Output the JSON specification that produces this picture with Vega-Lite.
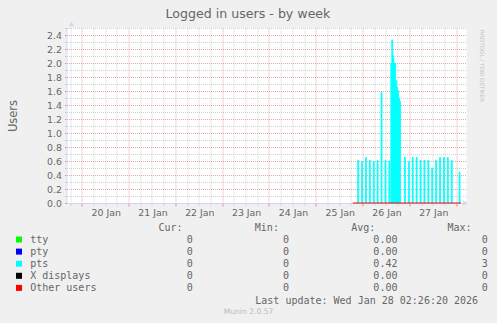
{
  "$schema": "https://vega.github.io/schema/vega-lite/v6.json",
  "width": 400,
  "height": 175,
  "autosize": {"type": "none"},
  "padding": {"left": 66.5, "top": 28, "right": 30.5, "bottom": 120},
  "background": "#F0F0F0",
  "title": {"text": "Logged in users - by week", "font": "DejaVu Sans", "fontSize": 12.6, "fontWeight": "normal", "color": "#666666", "anchor": "middle", "frame": "group", "dx": -18.5, "offset": 1},
  "config": {
    "view": {"fill": "#FFFFFF", "stroke": null},
    "axis": {"labelFont": "DejaVu Sans", "labelFontSize": 9.4, "labelColor": "#666666", "titleFont": "DejaVu Sans", "titleColor": "#666666", "titleFontWeight": "normal"}
  },
  "datasets": {
    "pts": [
      {"series": "pts", "start": "2026-01-25T21:30:00Z", "end": "2026-01-25T22:00:00Z", "value": 0.61},
      {"series": "pts", "start": "2026-01-25T23:30:00Z", "end": "2026-01-26T00:00:00Z", "value": 0.59},
      {"series": "pts", "start": "2026-01-26T01:30:00Z", "end": "2026-01-26T02:00:00Z", "value": 0.65},
      {"series": "pts", "start": "2026-01-26T03:30:00Z", "end": "2026-01-26T04:00:00Z", "value": 0.61},
      {"series": "pts", "start": "2026-01-26T05:30:00Z", "end": "2026-01-26T06:00:00Z", "value": 0.59},
      {"series": "pts", "start": "2026-01-26T07:30:00Z", "end": "2026-01-26T08:00:00Z", "value": 0.61},
      {"series": "pts", "start": "2026-01-26T09:30:00Z", "end": "2026-01-26T10:00:00Z", "value": 1.58},
      {"series": "pts", "start": "2026-01-26T11:30:00Z", "end": "2026-01-26T12:00:00Z", "value": 0.61},
      {"series": "pts", "start": "2026-01-26T13:30:00Z", "end": "2026-01-26T14:00:00Z", "value": 0.6},
      {"series": "pts", "start": "2026-01-26T14:30:00Z", "end": "2026-01-26T15:00:00Z", "value": 2.0},
      {"series": "pts", "start": "2026-01-26T15:00:00Z", "end": "2026-01-26T15:30:00Z", "value": 2.33},
      {"series": "pts", "start": "2026-01-26T15:30:00Z", "end": "2026-01-26T16:00:00Z", "value": 2.1},
      {"series": "pts", "start": "2026-01-26T16:00:00Z", "end": "2026-01-26T16:30:00Z", "value": 2.0},
      {"series": "pts", "start": "2026-01-26T16:30:00Z", "end": "2026-01-26T17:00:00Z", "value": 2.0},
      {"series": "pts", "start": "2026-01-26T17:00:00Z", "end": "2026-01-26T17:30:00Z", "value": 1.75},
      {"series": "pts", "start": "2026-01-26T17:30:00Z", "end": "2026-01-26T18:00:00Z", "value": 1.65},
      {"series": "pts", "start": "2026-01-26T18:00:00Z", "end": "2026-01-26T18:30:00Z", "value": 1.6},
      {"series": "pts", "start": "2026-01-26T18:30:00Z", "end": "2026-01-26T19:00:00Z", "value": 1.5},
      {"series": "pts", "start": "2026-01-26T19:00:00Z", "end": "2026-01-26T19:30:00Z", "value": 1.45},
      {"series": "pts", "start": "2026-01-26T21:30:00Z", "end": "2026-01-26T22:00:00Z", "value": 0.65},
      {"series": "pts", "start": "2026-01-26T23:30:00Z", "end": "2026-01-27T00:00:00Z", "value": 0.59},
      {"series": "pts", "start": "2026-01-27T01:30:00Z", "end": "2026-01-27T02:00:00Z", "value": 0.65},
      {"series": "pts", "start": "2026-01-27T03:30:00Z", "end": "2026-01-27T04:00:00Z", "value": 0.65},
      {"series": "pts", "start": "2026-01-27T05:30:00Z", "end": "2026-01-27T06:00:00Z", "value": 0.61},
      {"series": "pts", "start": "2026-01-27T07:30:00Z", "end": "2026-01-27T08:00:00Z", "value": 0.61},
      {"series": "pts", "start": "2026-01-27T09:30:00Z", "end": "2026-01-27T10:00:00Z", "value": 0.61},
      {"series": "pts", "start": "2026-01-27T11:30:00Z", "end": "2026-01-27T12:00:00Z", "value": 0.5},
      {"series": "pts", "start": "2026-01-27T13:30:00Z", "end": "2026-01-27T14:00:00Z", "value": 0.61},
      {"series": "pts", "start": "2026-01-27T15:30:00Z", "end": "2026-01-27T16:00:00Z", "value": 0.65},
      {"series": "pts", "start": "2026-01-27T17:30:00Z", "end": "2026-01-27T18:00:00Z", "value": 0.65},
      {"series": "pts", "start": "2026-01-27T19:30:00Z", "end": "2026-01-27T20:00:00Z", "value": 0.65},
      {"series": "pts", "start": "2026-01-27T21:30:00Z", "end": "2026-01-27T22:00:00Z", "value": 0.61},
      {"series": "pts", "start": "2026-01-28T01:30:00Z", "end": "2026-01-28T02:00:00Z", "value": 0.44}
    ],
    "other": [
      {"series": "Other users", "t": "2026-01-25T19:00:00Z", "value": 0},
      {"series": "Other users", "t": "2026-01-28T02:26:20Z", "value": 0}
    ]
  },
  "layer": [
    {
      "data": {"name": "pts"},
      "mark": {"type": "bar", "orient": "vertical", "stroke": "#00FFFF", "strokeWidth": 0.8},
      "encoding": {
        "x": {
          "field": "start", "type": "temporal",
          "scale": {"type": "utc", "domain": [1768848300000, 1769568300000]},
          "axis": {
            "orient": "bottom",
            "values": [1768845600000, 1768888800000, 1768910400000, 1768932000000, 1768975200000, 1768996800000, 1769018400000, 1769061600000, 1769083200000, 1769104800000, 1769148000000, 1769169600000, 1769191200000, 1769234400000, 1769256000000, 1769277600000, 1769320800000, 1769342400000, 1769364000000, 1769407200000, 1769428800000, 1769450400000, 1769493600000, 1769515200000, 1769536800000],
            "grid": true, "gridColor": "#8C8C8C", "gridOpacity": 0.4, "gridDash": [1, 1],
            "labels": false, "ticks": true, "tickSize": 2, "tickColor": "#C8C8C8", "domain": false, "title": null
          }
        },
        "x2": {"field": "end"},
        "y": {
          "field": "value", "type": "quantitative",
          "scale": {"domain": [0, 2.5], "nice": false, "zero": true},
          "axis": {
            "orient": "left",
            "values": [0.1, 0.3, 0.5, 0.7, 0.9, 1.1, 1.3, 1.5, 1.7, 1.9, 2.1, 2.3, 2.5],
            "grid": true, "gridColor": "#8C8C8C", "gridOpacity": 0.4, "gridDash": [1, 1],
            "labels": false, "ticks": true, "tickSize": 2, "tickColor": "#C8C8C8", "domain": false, "title": null
          }
        },
        "y2": {"datum": 0},
        "color": {
          "field": "series", "type": "nominal",
          "scale": {"domain": ["tty", "pty", "pts", "X displays", "Other users"], "range": ["#00FF00", "#0000FF", "#00FFFF", "#000000", "#FF0000"]},
          "legend": {
            "orient": "none", "legendX": -52.5, "legendY": 194.5, "direction": "vertical", "padding": 0,
            "title": "\u200b\u00a0\u00a0\u00a0\u00a0\u00a0\u00a0\u00a0\u00a0\u00a0\u00a0\u00a0\u00a0\u00a0\u00a0\u00a0\u00a0\u00a0\u00a0\u00a0\u00a0\u00a0\u00a0\u00a0\u00a0Cur:\u00a0\u00a0\u00a0\u00a0\u00a0\u00a0\u00a0\u00a0\u00a0\u00a0\u00a0\u00a0Min:\u00a0\u00a0\u00a0\u00a0\u00a0\u00a0\u00a0\u00a0\u00a0\u00a0\u00a0\u00a0Avg:\u00a0\u00a0\u00a0\u00a0\u00a0\u00a0\u00a0\u00a0\u00a0\u00a0\u00a0\u00a0Max:",
            "titleFont": "DejaVu Sans Mono", "titleFontSize": 10, "titleFontWeight": "normal", "titleColor": "#666666", "titlePadding": 2.0, "titleLimit": 1000,
            "symbolType": "square", "symbolSize": 36, "symbolStrokeWidth": 0, "symbolOpacity": 1,
            "labelFont": "DejaVu Sans Mono", "labelFontSize": 10, "labelColor": "#666666", "labelLimit": 1000, "labelOffset": 6.2,
            "rowPadding": 2.1,
            "labelExpr": "pad(datum.label, 26, '\u00a0') + '0' + pad('0', 16, '\u00a0', 'left') + pad(datum.label == 'pts' ? '0.42' : '0.00', 18, '\u00a0', 'left') + pad(datum.label == 'pts' ? '3' : '0', 15, '\u00a0', 'left')"
          }
        }
      }
    },
    {
      "data": {"name": "other"},
      "mark": {"type": "line", "color": "#FF0000", "strokeWidth": 1},
      "encoding": {
        "x": {
          "field": "t", "type": "temporal",
          "scale": {"type": "utc", "domain": [1768848300000, 1769568300000]},
          "axis": {
            "orient": "bottom",
            "values": [1768867200000, 1768953600000, 1769040000000, 1769126400000, 1769212800000, 1769299200000, 1769385600000, 1769472000000, 1769558400000],
            "grid": true, "gridColor": "#D05050", "gridOpacity": 0.5, "gridDash": [1, 1],
            "ticks": true, "tickSize": 3, "tickColor": "#E09090",
            "domain": true, "domainColor": "#CFD6F8", "domainWidth": 1,
            "labelOffset": 24, "labelPadding": 2, "labelAngle": 0,
            "labelExpr": "datum.value >= 1769558400000 ? '' : utcFormat(datum.value, '%d %b')",
            "title": null
          }
        },
        "y": {
          "field": "value", "type": "quantitative",
          "scale": {"domain": [0, 2.5], "nice": false, "zero": true},
          "axis": {
            "orient": "left",
            "values": [0, 0.2, 0.4, 0.6, 0.8, 1.0, 1.2, 1.4, 1.6, 1.8, 2.0, 2.2, 2.4],
            "format": ".1f",
            "grid": true, "gridColor": "#D05050", "gridOpacity": 0.5, "gridDash": [1, 1],
            "ticks": true, "tickSize": 2, "tickColor": "#E09090",
            "domain": true, "domainColor": "#CFD6F8", "domainWidth": 1,
            "labelPadding": 3,
            "title": "Users", "titleFontSize": 11.5, "titlePadding": 28
          }
        }
      }
    },
    {
      "data": {"values": [{"arrow": "y"}]},
      "mark": {"type": "point", "shape": "triangle-up", "filled": true, "color": "#CFD6F8", "opacity": 1, "size": 30},
      "encoding": {
        "x": {"datum": 1768848300000, "type": "temporal", "scale": {"type": "utc", "domain": [1768848300000, 1769568300000]}, "axis": null},
        "y": {"datum": 2.56, "type": "quantitative", "scale": {"domain": [0, 2.5], "nice": false, "zero": true}, "axis": null}
      }
    },
    {
      "data": {"values": [{"arrow": "x"}]},
      "mark": {"type": "point", "shape": "triangle-right", "filled": true, "color": "#CFD6F8", "opacity": 1, "size": 30},
      "encoding": {
        "x": {"datum": 1769575500000, "type": "temporal", "scale": {"type": "utc", "domain": [1768848300000, 1769568300000]}, "axis": null},
        "y": {"datum": 0, "type": "quantitative", "scale": {"domain": [0, 2.5], "nice": false, "zero": true}, "axis": null}
      }
    },
    {
      "data": {"values": [{"text": "RRDTOOL / TOBI OETIKER"}]},
      "mark": {"type": "text", "angle": 90, "align": "left", "baseline": "middle", "font": "DejaVu Sans", "fontSize": 5.6, "color": "#C4C4C4"},
      "encoding": {
        "x": {"datum": 1769606100000, "type": "temporal", "scale": {"type": "utc", "domain": [1768848300000, 1769568300000]}, "axis": null},
        "y": {"datum": 2.47, "type": "quantitative", "scale": {"domain": [0, 2.5], "nice": false, "zero": true}, "axis": null},
        "text": {"field": "text"}
      }
    },
    {
      "data": {"values": [{"text": "Last update: Wed Jan 28 02:26:20 2026"}]},
      "mark": {"type": "text", "align": "right", "baseline": "middle", "font": "DejaVu Sans Mono", "fontSize": 10, "color": "#666666"},
      "encoding": {
        "x": {"datum": 1769598900000, "type": "temporal", "scale": {"type": "utc", "domain": [1768848300000, 1769568300000]}, "axis": null},
        "y": {"datum": -1.404, "type": "quantitative", "scale": {"domain": [0, 2.5], "nice": false, "zero": true}, "axis": null},
        "text": {"field": "text"}
      }
    },
    {
      "data": {"values": [{"text": "Munin 2.0.57"}]},
      "mark": {"type": "text", "align": "center", "baseline": "middle", "font": "DejaVu Sans", "fontSize": 7.6, "color": "#BBBBBB"},
      "encoding": {
        "x": {"datum": 1769175000000, "type": "temporal", "scale": {"type": "utc", "domain": [1768848300000, 1769568300000]}, "axis": null},
        "y": {"datum": -1.553, "type": "quantitative", "scale": {"domain": [0, 2.5], "nice": false, "zero": true}, "axis": null},
        "text": {"field": "text"}
      }
    }
  ],
  "resolve": {"axis": {"x": "independent", "y": "independent"}}
}
